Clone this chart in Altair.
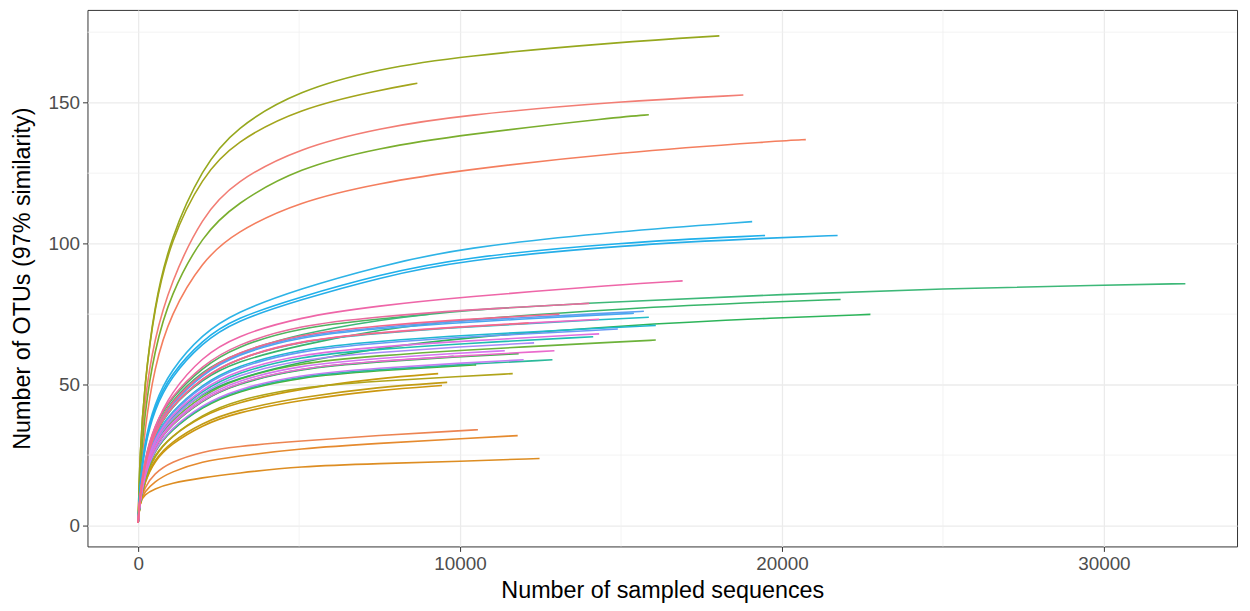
import altair as alt
import pandas as pd

# shared x grid (number of sampled sequences) at which curve values were read
XS = [0, 50, 200, 500, 1000, 2000, 3000, 5000, 7500, 10000, 15000, 20000, 25000, 30000]

X_TICKS = [0, 10000, 20000, 30000]
Y_TICKS = [0, 50, 100, 150]
X_MINOR = [5000, 15000, 25000]
Y_MINOR = [25, 75, 125, 175]

# ---- per-sample curves: values at XS (below end), plus end point ----
O1 = [1, 8.5, 13.5, 18.5, 22.5, 26.3, 28, 30, 32, 33.6]
O2 = [1, 8.5, 12, 15.5, 19, 22.8, 24.5, 27.3, 29.2, 30.8]
O3 = [1, 8.5, 11, 13, 15, 17, 18.5, 21, 22, 22.8]
S03 = [1, 20, 45, 66, 86, 110, 122, 134, 141, 145.5, 150.5]
S05 = [1, 14, 34, 56, 75, 94, 104, 115, 121.5, 126, 132.5, 136.5]
G1 = [1, 8, 17, 25, 31.5, 39, 43.5, 48.5, 52.3]
G2 = [1, 7.5, 15.8, 23.3, 29.5, 36.5, 40.8, 45.5, 49.2]
G3 = [1, 7.3, 15.4, 22.8, 28.8, 35.7, 39.9, 44.5, 48.1]
M19 = [1, 7.4, 16.2, 24.6, 31.5, 39.4, 44.3, 49.2, 51.3, 52.9]
S01 = [1, 25, 50, 78, 102, 127, 141, 154.5, 162, 166.5, 171.5]
S02 = [1, 25, 50, 77, 101, 124, 136, 148, 154.5]
S04 = [1, 17, 40, 62, 82, 103, 114, 127, 134, 138.5, 145]
M12 = [1, 8.7, 19.1, 28.9, 37, 46.2, 52, 57.8, 60.3, 62.2, 65.2]
M21 = [1, 7.9, 17.4, 26.4, 33.7, 42.2, 47.4, 52.7, 55, 56.7]
M16 = [1, 8.4, 18.4, 27.9, 35.6, 44.6, 50.1, 55.7, 58.1, 59.9]
S12 = [1, 8, 19, 29, 38, 47, 52, 58, 63, 66.5, 71, 73.8]
M20 = [1, 10.5, 23.2, 35.2, 45, 56.2, 63.3, 70.3, 73.3]
S11 = [1, 9, 21, 32, 42, 52, 58, 64, 69.5, 73, 77, 79.5]
S10 = [1, 10, 22, 34, 44, 55, 61, 68, 73, 76.5, 79.5, 82, 84, 85.3]
M22 = [1, 8.4, 18.4, 28, 35.8, 44.7, 50.3, 55.9, 58.3]
M18 = [1, 8, 17.5, 26.6, 34, 42.5, 47.8, 53.1, 55.4, 57.1]
M11 = [1, 9, 19.8, 30, 38.4, 48, 54, 60, 62.6, 64.5]
M5 = [1, 9.8, 21.6, 32.8, 41.9, 52.4, 59, 65.5, 68.3, 70.4, 73.4]
M7 = [1, 9.4, 20.7, 31.4, 40.1, 50.2, 56.4, 62.7, 65.4, 67.4, 70.4]
S06 = [1, 14, 30, 43, 55, 68, 75.5, 84, 92, 98.5, 104.5]
S07 = [1, 13, 29, 42, 53.5, 66, 73.5, 81, 89, 95, 100.5]
S08 = [1, 13, 28, 41, 52.5, 65, 72.5, 80, 88, 94, 99.5, 102.2]
M4 = [1, 10.1, 22.1, 33.6, 42.9, 53.7, 60.4, 67.1, 69.9, 72.1, 75.1]
M2 = [1, 10.1, 22.3, 33.8, 43.2, 54, 60.8, 67.5, 70.4, 72.6, 75.6]
M9 = [1, 9.3, 20.5, 31.1, 39.7, 49.7, 55.9, 62.1, 64.8, 66.8]
M13 = [1, 8.9, 19.5, 29.5, 37.8, 47.2, 53.1, 59, 61.5, 63.4]
M17 = [1, 8, 17.7, 26.8, 34.3, 42.9, 48.2, 53.6, 55.9, 57.6]
M15 = [1, 8.5, 18.8, 28.5, 36.4, 45.5, 51.2, 56.9, 59.4, 61.2]
M10 = [1, 9.1, 20.1, 30.4, 38.9, 48.6, 54.7, 60.8, 63.4, 65.4]
M14 = [1, 8.4, 18.5, 28, 35.8, 44.8, 50.4, 56, 58.4, 60.2]
M6 = [1, 9.9, 21.7, 32.9, 42, 52.6, 59.1, 65.7, 68.5, 70.6]
M1 = [1, 10.7, 23.5, 35.6, 45.5, 56.9, 64, 71.1, 74.1, 76.4]
S09 = [1, 10, 22, 35, 47, 60, 67, 74, 78, 81, 85.5]
M3 = [1, 10.2, 22.4, 34, 43.5, 54.4, 61.2, 68, 70.9, 73.1]
M8 = [1, 9.8, 21.6, 32.8, 42, 52.5, 59, 65.6, 68.4, 70.5]

SERIES = [O1, O2, O3, S03, S05, G1, G2, G3, M19, S01, S02, S04, M12, M21, M16,
          S12, M20, S11, S10, M22, M18, M11, M5, M7, S06, S07, S08, M4, M2, M9,
          M13, M17, M15, M10, M14, M6, M1, S09, M3, M8]
SAMPLES = [f"S{i + 1:02d}" for i in range(len(SERIES))]
END_X = [10555, 11790, 12469, 18800, 20740, 9320, 9600, 9440, 11636, 18055, 8673, 15864, 16080,
         10500, 11821, 22747, 9040, 21821, 32531, 9800, 12870, 14136, 15864, 16080, 19074,
         19475, 21728, 15400, 15710, 14900, 12300, 11975, 11389, 14321, 12932, 14321, 14012,
         16914, 13086, 12130]
END_Y = [34, 31.9, 23.8, 152.7, 136.9, 53.9, 50.8, 49.7, 53.9, 173.7, 156.9, 145.7, 65.8,
         57, 61, 74.9, 75, 80.2, 85.8, 60, 58.8, 67, 73.9, 71, 107.8,
         102.9, 102.9, 75.3, 76, 69.7, 64.8, 58.8, 62, 68, 62, 73.2, 78.8,
         86.8, 75, 71.8]
COLORS = ["#EC8452", "#E58A2E", "#DD8D22", "#F27D74", "#F47E5E", "#C69A0E", "#C29B14", "#CC9710",
          "#B0A41A", "#96A81E", "#A3A51C", "#7AAE2E", "#6CB23A", "#45B43C", "#3DB44A", "#2DB45A",
          "#4DB35E", "#37B56A", "#3DB878", "#1FBA8A", "#2BB99B", "#1EBDB0", "#22BCC6", "#20B8D2",
          "#2DB3E6", "#1FB0EB", "#26AEE8", "#4AA7F0", "#5EA0F2", "#6A9AF5", "#A78AF7", "#C47DF2",
          "#D575F0", "#DE6FE0", "#EA6ACC", "#EE68C4", "#E86C9E", "#EE66A8", "#F2678E", "#F36C84"]

rows = []
for k, (sid, ys, ex, ey) in enumerate(zip(SAMPLES, SERIES, END_X, END_Y)):
    for x, y in zip(XS, ys):
        if x < ex:
            rows.append({"sample": sid, "seqs": x, "otus": y, "k": k})
    rows.append({"sample": sid, "seqs": ex, "otus": ey, "k": k})
df = pd.DataFrame(rows)

FONT = "Liberation Sans"
xscale = alt.Scale(domain=[-1574, 34136], nice=False, zero=False)
yscale = alt.Scale(domain=[-7.4, 182.9], nice=False, zero=False)

X_AXIS = alt.Axis(values=X_TICKS, format="d", title="Number of sampled sequences",
                  grid=True, gridColor="#EBEBEB", gridWidth=1.3, domain=False,
                  tickColor="#333333", tickSize=5, labelPadding=3,
                  labelFontSize=19, labelColor="#4D4D4D", labelFont=FONT,
                  titleFontSize=23.5, titleFont=FONT, titleColor="#000000",
                  titleFontWeight="normal", titlePadding=5)
Y_AXIS = alt.Axis(values=Y_TICKS, format="d", title="Number of OTUs (97% similarity)",
                  grid=True, gridColor="#EBEBEB", gridWidth=1.3, domain=False,
                  tickColor="#333333", tickSize=5, labelPadding=3,
                  labelFontSize=19, labelColor="#4D4D4D", labelFont=FONT,
                  titleFontSize=23.5, titleFont=FONT, titleColor="#000000",
                  titleFontWeight="normal", titlePadding=14)

xminor = alt.Chart(pd.DataFrame({"seqs": X_MINOR})).mark_rule(color="#F0F0F0", strokeWidth=0.8).encode(
    x=alt.X("seqs:Q", scale=xscale, axis=X_AXIS))
yminor = alt.Chart(pd.DataFrame({"otus": Y_MINOR})).mark_rule(color="#F0F0F0", strokeWidth=0.8).encode(
    y=alt.Y("otus:Q", scale=yscale, axis=Y_AXIS))

lines = alt.Chart(df).mark_line(strokeWidth=1.6, interpolate="basis").encode(
    x=alt.X("seqs:Q", scale=xscale, axis=X_AXIS),
    y=alt.Y("otus:Q", scale=yscale, axis=Y_AXIS),
    color=alt.Color("sample:N", scale=alt.Scale(domain=SAMPLES, range=COLORS), legend=None),
    detail="sample:N",
    order=alt.Order("seqs:Q"),
)

chart = alt.layer(xminor, yminor, lines).properties(
    width=1157, height=540,
    autosize=alt.AutoSizeParams(type="none"),
    padding={"left": 80, "top": 0, "right": 5, "bottom": 55},
    background="white",
).configure_view(stroke="#333333", strokeWidth=1)

chart.save("out.html", embed_options={"renderer": "svg", "actions": False})
